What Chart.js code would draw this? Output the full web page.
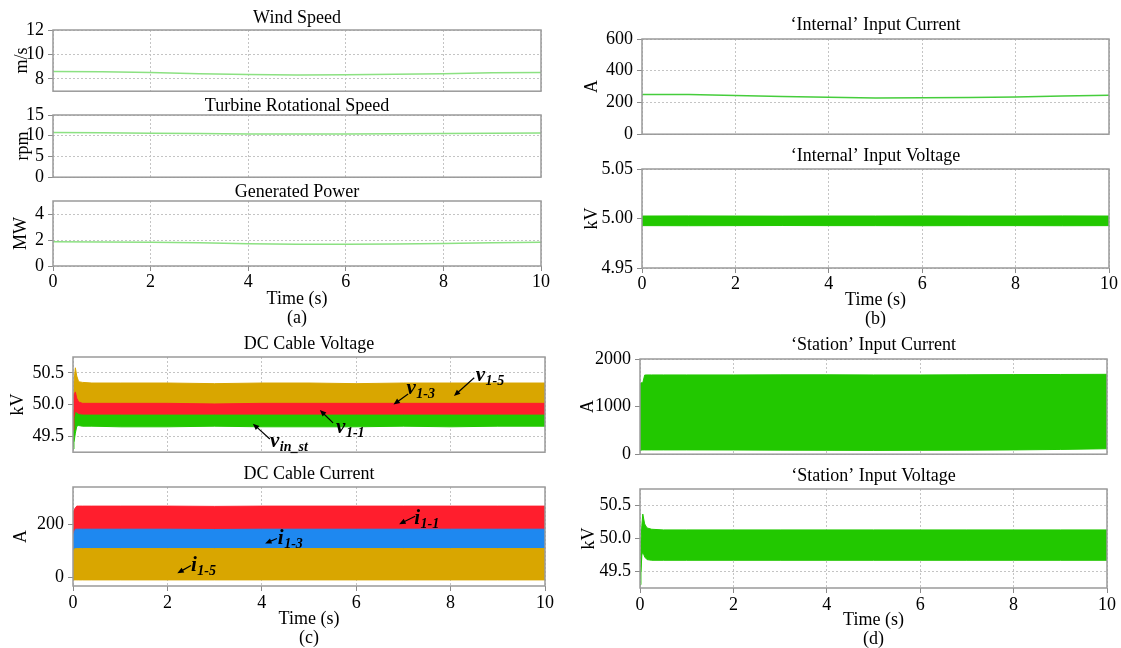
<!DOCTYPE html>
<html><head><meta charset="utf-8">
<script src="https://cdn.jsdelivr.net/npm/chart.js@4/dist/chart.umd.min.js"></script>
<style>
html,body{margin:0;padding:0;background:#fff;}
body{width:1121px;height:648px;position:relative;overflow:hidden;}
canvas{position:absolute;}
</style></head><body>
<script>
// ---------------- DATA ----------------
const xTicks = [0, 2, 4, 6, 8, 10];

// (a)
const tSlow = [0, 1, 2, 3, 4, 5, 6, 7, 8, 9, 10];
const windSpeed = [8.6, 8.58, 8.52, 8.42, 8.36, 8.33, 8.34, 8.38, 8.42, 8.5, 8.53];
const rotSpeed = [10.75, 10.7, 10.62, 10.52, 10.44, 10.4, 10.42, 10.46, 10.52, 10.6, 10.66];
const genPower = [1.86, 1.85, 1.82, 1.78, 1.72, 1.68, 1.68, 1.7, 1.73, 1.78, 1.82];
const windTicks = [8, 10, 12];
const rotTicks = [0, 5, 10, 15];
const powerTicks = [0, 2, 4];

// (b)
const intCurrent = [250, 250, 244, 238, 233, 228, 229, 232, 235, 240, 245];
const intVoltUpper = [5.0025, 5.0026, 5.0025, 5.0024, 5.0025, 5.0025, 5.0026, 5.0025, 5.0025, 5.0026, 5.0025];
const intVoltLower = [4.9928, 4.9927, 4.9928, 4.9929, 4.9928, 4.9928, 4.9927, 4.9928, 4.9928, 4.9927, 4.9928];
const intCurTicks = [0, 200, 400, 600];
const intVoltTicks = [4.95, 5.00, 5.05];

// (c)
const tCable = [0, 0.02, 0.05, 0.08, 0.12, 0.2, 0.4, 1, 2, 3, 4, 5, 6, 7, 8, 9, 10];
const v15Upper = [49.9, 50.35, 50.58, 50.45, 50.36, 50.35, 50.34, 50.34, 50.34, 50.33, 50.34, 50.34, 50.33, 50.34, 50.34, 50.34, 50.34];
const v15Lower = [49.6, 49.7, 49.8, 49.78, 49.76, 49.75, 49.75, 49.75, 49.75, 49.75, 49.75, 49.75, 49.75, 49.75, 49.75, 49.75, 49.75];
const v11Upper = [49.9, 50.15, 50.2, 50.1, 50.04, 50.02, 50.02, 50.02, 50.02, 50.01, 50.02, 50.02, 50.02, 50.02, 50.02, 50.02, 50.02];
const v11Lower = [49.6, 49.8, 49.9, 49.88, 49.86, 49.85, 49.85, 49.85, 49.85, 49.85, 49.85, 49.85, 49.85, 49.85, 49.85, 49.85, 49.85];
const vinUpper = [49.8, 49.9, 50.0, 49.95, 49.92, 49.9, 49.9, 49.9, 49.9, 49.9, 49.9, 49.9, 49.9, 49.9, 49.9, 49.9, 49.9];
const vinLower = [49.3, 49.4, 49.55, 49.66, 49.67, 49.66, 49.66, 49.65, 49.65, 49.66, 49.65, 49.65, 49.65, 49.66, 49.65, 49.66, 49.66];
const i11Upper = [245, 245, 262, 268, 268, 268, 268, 268, 268, 267, 268, 268, 268, 268, 268, 268, 268];
const i11Lower = [160, 165, 175, 175, 175, 175, 175, 175, 175, 175, 175, 175, 175, 175, 175, 175, 175];
const i13Upper = [162, 165, 181, 181, 181, 181, 181, 181, 181, 180, 181, 181, 181, 181, 181, 181, 181];
const i13Lower = [100, 100, 100, 100, 100, 100, 100, 100, 100, 100, 100, 100, 100, 100, 100, 100, 100];
const i15Upper = [100, 105, 108, 108, 108, 108, 108, 108, 108, 108, 108, 108, 108, 108, 108, 108, 108];
const i15Lower = [-10, -10, -10, -10, -10, -10, -10, -10, -10, -10, -10, -10, -10, -10, -10, -10, -10];
const cableVoltTicks = [49.5, 50.0, 50.5];
const cableCurTicks = [0, 200];

// (d)
const tStation = [0, 0.02, 0.04, 0.06, 0.1, 0.15, 0.25, 0.5, 1, 2, 3, 4, 5, 6, 7, 8, 9, 10];
const stCurUpper = [1480, 1500, 1500, 1500, 1662, 1665, 1665, 1665, 1665, 1665, 1667, 1668, 1665, 1665, 1668, 1672, 1675, 1678];
const stCurLower = [80, 85, 88, 90, 90, 90, 90, 90, 90, 88, 85, 82, 80, 82, 85, 90, 100, 115];
const stVoltUpper = [49.5, 49.95, 50.2, 50.37, 50.22, 50.16, 50.14, 50.13, 50.13, 50.13, 50.13, 50.13, 50.13, 50.13, 50.13, 50.13, 50.13, 50.13];
const stVoltLower = [49.3, 49.5, 49.75, 49.8, 49.72, 49.68, 49.67, 49.67, 49.67, 49.67, 49.67, 49.67, 49.67, 49.67, 49.67, 49.67, 49.67, 49.67];
const stCurTicks = [0, 1000, 2000];
const stVoltTicks = [49.5, 50.0, 50.5];

// annotation labels (data coordinates)
const voltLabels = [
  {main: 'v', sub: '1-5', at: [8.83, 50.455], from: [8.50, 50.424], to: [8.07, 50.136]},
  {main: 'v', sub: '1-3', at: [7.36, 50.242], from: [7.10, 50.167], to: [6.79, 50.0]},
  {main: 'v', sub: '1-1', at: [5.87, 49.636], from: [5.51, 49.712], to: [5.23, 49.914]},
  {main: 'v', sub: 'in_st', at: [4.57, 49.409], from: [4.17, 49.459], to: [3.81, 49.70]}
];
const curLabels = [
  {main: 'i', sub: '1-1', at: [7.49, 219], from: [7.25, 230], to: [6.91, 200]},
  {main: 'i', sub: '1-3', at: [4.60, 143], from: [4.32, 146], to: [4.07, 127]},
  {main: 'i', sub: '1-5', at: [2.76, 40.6], from: [2.50, 44], to: [2.21, 15]}
];

// ---------------- STYLE ----------------
const FONT = "'Liberation Serif', 'Times New Roman', serif";
const FS = 18;
const LH = FS * 1.2;
const TLH = FS * 1.0;
const XLH = FS * 1.08;
const C_LIGHT = 'rgb(140,225,130)';
const C_GREEN_LINE = 'rgb(70,205,60)';
const C_GREEN = 'rgb(34,200,0)';
const C_RED = 'rgb(255,30,45)';
const C_BLUE = 'rgb(30,136,240)';
const C_GOLD = 'rgb(217,166,0)';

Chart.defaults.font.family = FONT;
Chart.defaults.font.size = FS;
Chart.defaults.color = '#000';

const zip = (t, v) => t.map((x, i) => ({x: x, y: v[i]}));
function line(t, v, color, w) {
  return {data: zip(t, v), borderColor: color, borderWidth: w, pointRadius: 0, fill: false, tension: 0};
}
function band(t, up, lo, color) {
  return [
    {data: zip(t, up), borderColor: color, backgroundColor: color, borderWidth: 1, pointRadius: 0, fill: '+1', tension: 0},
    {data: zip(t, lo), borderColor: color, backgroundColor: color, borderWidth: 1, pointRadius: 0, fill: false, tension: 0}
  ];
}

const framePlugin = {
  id: 'frame',
  afterDatasetsDraw(chart) {
    const {ctx, chartArea: a} = chart;
    ctx.save();
    ctx.strokeStyle = '#9a9a9a';
    ctx.lineWidth = 1.5;
    ctx.strokeRect(a.left, a.top, a.right - a.left, a.bottom - a.top);
    ctx.restore();
  }
};
function labelPlugin(items) {
  return {
    id: 'arrowLabels',
    afterDatasetsDraw(chart) {
      const {ctx, scales: {x, y}} = chart;
      ctx.save();
      items.forEach(it => {
        const x0 = x.getPixelForValue(it.from[0]), y0 = y.getPixelForValue(it.from[1]);
        const x1 = x.getPixelForValue(it.to[0]), y1 = y.getPixelForValue(it.to[1]);
        const ang = Math.atan2(y1 - y0, x1 - x0), hl = 7;
        ctx.strokeStyle = '#000'; ctx.fillStyle = '#000'; ctx.lineWidth = 1.2;
        ctx.beginPath(); ctx.moveTo(x0, y0);
        ctx.lineTo(x1 - Math.cos(ang) * hl * 0.7, y1 - Math.sin(ang) * hl * 0.7); ctx.stroke();
        ctx.beginPath(); ctx.moveTo(x1, y1);
        ctx.lineTo(x1 - hl * Math.cos(ang - 0.4), y1 - hl * Math.sin(ang - 0.4));
        ctx.lineTo(x1 - hl * Math.cos(ang + 0.4), y1 - hl * Math.sin(ang + 0.4));
        ctx.closePath(); ctx.fill();
        const cx = x.getPixelForValue(it.at[0]), cy = y.getPixelForValue(it.at[1]);
        ctx.textAlign = 'left'; ctx.textBaseline = 'alphabetic';
        ctx.font = 'italic bold 21px ' + FONT; const w1 = ctx.measureText(it.main).width;
        ctx.font = 'italic bold 14px ' + FONT; const w2 = ctx.measureText(it.sub).width;
        const tx = cx - (w1 + w2) / 2;
        ctx.font = 'italic bold 21px ' + FONT; ctx.fillText(it.main, tx, cy + 5);
        ctx.font = 'italic bold 14px ' + FONT; ctx.fillText(it.sub, tx + w1 + 0.5, cy + 9);
      });
      ctx.restore();
    }
  };
}

function makePanel(p) {
  const l = Math.round(p.plot[0]), t = Math.round(p.plot[1]), r = Math.round(p.plot[2]), b = Math.round(p.plot[3]);
  const cLeft = Math.round(p.yTitleX - LH / 2 - 1);
  const Wy = l - cLeft;
  const titlePB = Math.max(0, (t - p.titleY) - TLH / 2);
  const titleH = TLH + titlePB;
  const cTop = Math.round(t - titleH - 2);
  const padTop = t - titleH - cTop;
  const padRight = 18;
  const cW = r - cLeft + padRight;
  let Hx = 0, padBottom = 12;
  if (p.xTitle) { Hx = Math.round(p.xTitleY2 + XLH / 2 - b); padBottom = 0; }
  const cH = b + Hx + padBottom - cTop;

  const cv = document.createElement('canvas');
  cv.width = cW; cv.height = cH;
  cv.style.left = cLeft + 'px'; cv.style.top = cTop + 'px';
  cv.style.width = cW + 'px'; cv.style.height = cH + 'px';
  document.body.appendChild(cv);

  const plugins = [framePlugin];
  if (p.labels) plugins.push(labelPlugin(p.labels));

  new Chart(cv.getContext('2d'), {
    type: 'line',
    data: {datasets: p.datasets},
    plugins: plugins,
    options: {
      responsive: false, animation: false, devicePixelRatio: 1,
      layout: {padding: {top: padTop, right: padRight, bottom: padBottom, left: 0}},
      plugins: {
        legend: {display: false}, tooltip: {enabled: false},
        title: {display: true, text: p.title, fullSize: false, color: '#000',
          font: {size: FS, weight: 'normal', lineHeight: 1.0}, padding: {top: 0, bottom: titlePB}}
      },
      scales: {
        x: {
          type: 'linear', min: 0, max: 10,
          afterBuildTicks: s => { s.ticks = xTicks.map(v => ({value: v})); },
          afterFit: s => { s.height = Hx; },
          ticks: {display: !!p.xTitle, autoSkip: false, padding: p.xTickPad || 0, maxRotation: 0, font: {size: FS}, color: '#000'},
          grid: {color: '#c4c4c4', lineWidth: 1, drawTicks: !!p.xTitle, tickLength: 5, tickColor: '#8a8a8a'},
          border: {display: false, dash: [2, 2]},
          title: {display: !!p.xTitle, text: p.xTitle || '', color: '#000', font: {size: FS, lineHeight: 1.08}, padding: {top: 0, bottom: 0}}
        },
        y: {
          type: 'linear', min: p.yMin, max: p.yMax,
          afterBuildTicks: s => { s.ticks = p.yTicks.map(v => ({value: v})); },
          afterFit: s => { s.width = Wy; },
          ticks: {autoSkip: false, padding: 4, font: {size: FS}, color: '#000', callback: v => Number(v).toFixed(p.dec || 0)},
          grid: {color: '#c4c4c4', lineWidth: 1, drawTicks: true, tickLength: 5, tickColor: '#8a8a8a'},
          border: {display: false, dash: [2, 2]},
          title: {display: true, text: p.yTitle, color: '#000', font: {size: FS, lineHeight: 1.2}, padding: {top: 1, bottom: 0}}
        }
      }
    }
  });
}

// ---------------- PANELS ----------------
makePanel({plot: [53, 29.5, 541, 94], titleY: 18.3, title: 'Wind Speed', yTitle: 'm/s', yTitleX: 22,
  yMin: 7, yMax: 12, yTicks: windTicks, datasets: [line(tSlow, windSpeed, C_LIGHT, 1.5)]});
makePanel({plot: [53, 115.3, 541, 180.3], titleY: 106, title: 'Turbine Rotational Speed', yTitle: 'rpm', yTitleX: 23,
  yMin: 0, yMax: 15, yTicks: rotTicks, datasets: [line(tSlow, rotSpeed, C_LIGHT, 1.5)]});
makePanel({plot: [53, 201, 541, 266.3], titleY: 192.3, title: 'Generated Power', yTitle: 'MW', yTitleX: 21,
  yMin: 0, yMax: 5, yTicks: powerTicks, datasets: [line(tSlow, genPower, C_LIGHT, 1.5)],
  xTitle: ['Time (s)', '(a)'], xTitleY2: 318.5, xTickPad: 0});

makePanel({plot: [642, 39, 1109, 137], titleY: 25.7, title: '\u2018Internal\u2019 Input Current', yTitle: 'A', yTitleX: 592,
  yMin: 0, yMax: 600, yTicks: intCurTicks, datasets: [line(tSlow, intCurrent, C_GREEN_LINE, 1.5)]});
makePanel({plot: [642, 169.3, 1109, 268], titleY: 156, title: '\u2018Internal\u2019 Input Voltage', yTitle: 'kV', yTitleX: 592,
  yMin: 4.95, yMax: 5.05, yTicks: intVoltTicks, dec: 2, datasets: band(tSlow, intVoltUpper, intVoltLower, C_GREEN),
  xTitle: ['Time (s)', '(b)'], xTitleY2: 319, xTickPad: 0});

makePanel({plot: [73, 356.7, 545, 455.3], titleY: 344, title: 'DC Cable Voltage', yTitle: 'kV', yTitleX: 18,
  yMin: 49.25, yMax: 50.75, yTicks: cableVoltTicks, dec: 1,
  datasets: [].concat(band(tCable, v11Upper, v11Lower, C_RED), band(tCable, vinUpper, vinLower, C_GREEN), band(tCable, v15Upper, v15Lower, C_GOLD)),
  labels: voltLabels});
makePanel({plot: [73, 487.3, 545, 585.5], titleY: 474.3, title: 'DC Cable Current', yTitle: 'A', yTitleX: 21,
  yMin: -33, yMax: 340, yTicks: cableCurTicks,
  datasets: [].concat(band(tCable, i15Upper, i15Lower, C_GOLD), band(tCable, i13Upper, i13Lower, C_BLUE), band(tCable, i11Upper, i11Lower, C_RED)),
  labels: curLabels, xTitle: ['Time (s)', '(c)'], xTitleY2: 638, xTickPad: 1.5});

makePanel({plot: [640, 358.7, 1107, 456.7], titleY: 345.7, title: '\u2018Station\u2019 Input Current', yTitle: 'A', yTitleX: 588,
  yMin: 0, yMax: 2000, yTicks: stCurTicks, datasets: band(tStation, stCurUpper, stCurLower, C_GREEN)});
makePanel({plot: [640, 489.3, 1107, 587.7], titleY: 476.7, title: '\u2018Station\u2019 Input Voltage', yTitle: 'kV', yTitleX: 589,
  yMin: 49.25, yMax: 50.75, yTicks: stVoltTicks, dec: 1, datasets: band(tStation, stVoltUpper, stVoltLower, C_GREEN),
  xTitle: ['Time (s)', '(d)'], xTitleY2: 639, xTickPad: 1.5});
</script>
</body></html>
